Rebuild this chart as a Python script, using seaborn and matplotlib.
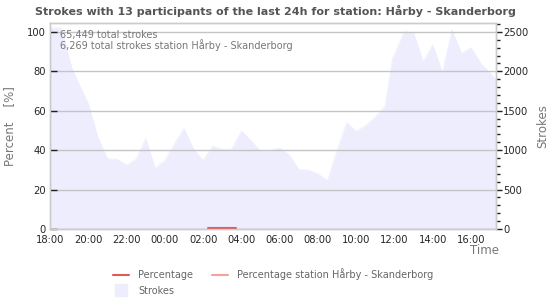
import matplotlib
matplotlib.use("Agg")
import matplotlib.pyplot as plt
import seaborn as sns
import numpy as np
import pandas as pd
from matplotlib.lines import Line2D
from matplotlib.ticker import MultipleLocator

# ---- data ----
hours = [0, 0.5, 0.58, 0.88, 1.14, 1.5, 2.0, 2.5, 3.0, 3.5, 4.0, 4.5, 5.0, 5.5, 6.0, 6.5, 7.0, 7.5,
         8.0, 8.5, 9.0, 9.5, 10.0, 10.5, 11.0, 11.5, 12.0, 12.5, 13.0, 13.5, 14.0, 14.5, 15.0,
         15.5, 16.0, 16.5, 17.0, 17.5, 17.9, 18.07, 18.5, 19.0, 19.5, 20.0, 20.5, 21.0, 21.5,
         22.0, 22.5, 23.0, 23.3]
strokes = [2550, 2550, 2550, 2290, 2040, 1845, 1590, 1165, 890, 885, 810, 885, 1145, 770, 870,
           1080, 1275, 1015, 870, 1050, 1008, 1015, 1243, 1123, 983, 995, 1025, 940, 753, 748,
           698, 613, 1000, 1348, 1238, 1315, 1420, 1560, 2165, 2250, 2505, 2483, 2123, 2335,
           1985, 2525, 2228, 2300, 2100, 1975, 1888]
pct_hours = [8.25, 8.75, 9.25, 9.73]
percentage = [0.3, 0.3, 0.3, 0.3]
xtick_labels = ["18:00", "20:00", "22:00", "00:00", "02:00", "04:00", "06:00",
                "08:00", "10:00", "12:00", "14:00", "16:00"]

title = "Strokes with 13 participants of the last 24h for station: Hårby - Skanderborg"
note1 = "65,449 total strokes"
note2 = "6,269 total strokes station Hårby - Skanderborg"

df = pd.DataFrame({"h": hours, "strokes": strokes})
dfp = pd.DataFrame({"h": pct_hours, "pct": percentage})

sns.set_style("white")
plt.rcParams["font.family"] = ["DejaVu Sans"]

fig = plt.figure(figsize=(5.5, 3.0), dpi=100)
ax = fig.add_axes([50/550, 1-229/300, 446/550, 206/300])
ax2 = ax.twinx()

area_col = "#ededfe"
sns.lineplot(data=df, x="h", y="strokes", ax=ax2, color=area_col, linewidth=0.5)
ax2.fill_between(df["h"], 0, df["strokes"], color=area_col, linewidth=0)
ax2.set_ylim(0, 2612.5)
ax2.set_xlim(0, 23.3)

sns.lineplot(data=dfp, x="h", y="pct", ax=ax, color="#e05a5a", linewidth=1.5)
ax.set_ylim(0, 104.5)
ax.set_xlim(0, 23.3)

ax.set_zorder(ax2.get_zorder() + 1)
ax.patch.set_visible(False)

# grid
ax.set_yticks([0, 20, 40, 60, 80, 100])
ax.yaxis.grid(True, color="#c4c4c4", linewidth=1.0)
ax.xaxis.grid(False)

ax.set_xticks(np.arange(0, 23, 2))
ax.set_xticklabels(xtick_labels)
ax.xaxis.set_minor_locator(MultipleLocator(0.5))
ax.tick_params(axis="x", which="major", direction="in", length=4.5, width=1, labelsize=7.2, pad=4.5, color="#222")
ax.tick_params(axis="x", which="minor", direction="in", length=2.5, width=1, color="#222")
ax.tick_params(axis="y", which="major", direction="in", length=5, width=1, labelsize=7.2, pad=3, color="#222")

ax2.set_yticks([0, 500, 1000, 1500, 2000, 2500])
ax2.yaxis.set_minor_locator(MultipleLocator(100))
ax2.tick_params(axis="y", which="major", direction="out", length=4, width=1, labelsize=7.2, pad=1, color="#222")
ax2.tick_params(axis="y", which="minor", direction="out", length=3, width=1, color="#222")

for a in (ax, ax2):
    for s in a.spines.values():
        s.set_color("#cccccc")
        s.set_linewidth(1)

ax.set_xlabel("")
ax.set_ylabel("Percent    [%]", color="#777777", fontsize=8.5, labelpad=8)
ax2.set_ylabel("Strokes", color="#777777", fontsize=8.5, labelpad=6)
ax2.set_xlabel("")

fig.text(484/550, 1-250/300, "Time", color="#777777", fontsize=8.5, ha="center", va="center")
fig.text(275/550, 1-11/300, title, color="#555555", fontsize=8, fontweight="bold", ha="center", va="center")
ax.text(60/550, 1-35/300, note1, transform=fig.transFigure, color="#777777", fontsize=7, va="center")
ax.text(60/550, 1-45/300, note2, transform=fig.transFigure, color="#777777", fontsize=7, va="center")

handles = [Line2D([], [], color="#e05a5a", linewidth=1.5),
           Line2D([], [], marker="s", markersize=8, linestyle="none",
                  markerfacecolor=area_col, markeredgecolor=area_col),
           Line2D([], [], color="#f7a0a0", linewidth=1.5)]
labels = ["Percentage", "Strokes", "Percentage station Hårby - Skanderborg"]
leg = fig.legend(handles, labels, ncol=2, loc="center", bbox_to_anchor=(273/550, 1-282/300),
                 frameon=False, fontsize=7, handlelength=1.65, columnspacing=1.95,
                 labelspacing=0.6, handletextpad=0.93)
for t in leg.get_texts():
    t.set_color("#666666")

fig.savefig("out.png", dpi=100)
